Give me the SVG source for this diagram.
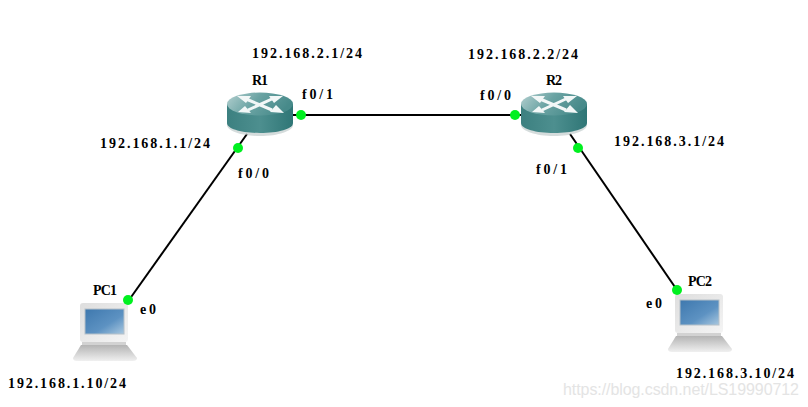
<svg xmlns="http://www.w3.org/2000/svg" width="808" height="407" viewBox="0 0 808 407">
<style>
.t{font-family:"Liberation Serif","DejaVu Serif",serif;font-weight:bold;font-size:14px;fill:#000}
.l{stroke:#000;stroke-width:2;fill:none}
.d{fill:#00f020}
.a{stroke:#f2f7f7;stroke-width:3;fill:none}
.h{fill:#f2f7f7}
</style>
<defs>
<linearGradient id="rt" x1="0" y1="0" x2="1" y2="0.3"><stop offset="0" stop-color="#b4d0d0"/><stop offset="0.5" stop-color="#6aa3a3"/><stop offset="1" stop-color="#478a8a"/></linearGradient>
<linearGradient id="rb" x1="0" y1="0" x2="1" y2="0"><stop offset="0" stop-color="#3c8080"/><stop offset="0.5" stop-color="#4d8f8f"/><stop offset="1" stop-color="#2f7676"/></linearGradient>
<linearGradient id="scr" x1="0" y1="0" x2="1" y2="1"><stop offset="0" stop-color="#3e78ae"/><stop offset="0.6" stop-color="#5d92c2"/><stop offset="1" stop-color="#a9c8e0"/></linearGradient>
<linearGradient id="mon" x1="0" y1="0" x2="1" y2="1"><stop offset="0" stop-color="#dedede"/><stop offset="1" stop-color="#f4f4f4"/></linearGradient>
<linearGradient id="bs" x1="0" y1="0" x2="0" y2="1"><stop offset="0" stop-color="#b4b4b4"/><stop offset="1" stop-color="#f0f0f0"/></linearGradient>
<g id="router">
<path d="M227 105V125C227 131 242 136 260 136S293 131 293 125V105Z" fill="#b9c4c4" opacity=".6"/>
<path d="M227 104V123C227 129 242 133 260 133S293 129 293 123V104Z" fill="url(#rb)"/>
<ellipse cx="260" cy="104" rx="33" ry="11.500" fill="url(#rt)"/>
<path class="a" d="M246 99L272 110M274 98L248 110"/>
<path class="h" d="M237 96L251 96L246 103ZM283 96L269 96L274 103ZM238 112L245 106L251 113ZM284 113L276 105L270 112Z"/>
</g>
<g id="pc">
<rect x="80" y="303" width="48" height="39" rx="3" fill="url(#mon)"/>
<rect x="82" y="342" width="44" height="4" fill="#d2d2d2"/>
<rect x="85" y="309" width="39" height="25" fill="url(#scr)" stroke="#b5c0c8"/>
<path d="M81 345H127L137 358Q137 361 133 361H77Q73 361 73 358Z" fill="url(#bs)"/>
</g>
</defs>
<g id="connectors">
<path class="l" d="M129 300L247 134"/>
<path class="l" d="M293 115H522"/>
<path class="l" d="M570 134L677 290"/>
</g>
<g id="R1"><use href="#router"/><text class="t" x="252" y="85" textLength="16">R1</text></g>
<g id="R2"><use href="#router" x="294"/><text class="t" x="546" y="85" textLength="16">R2</text></g>
<g id="PC1"><use href="#pc"/><text class="t" x="93" y="295" textLength="24">PC1</text></g>
<g id="PC2"><use href="#pc" x="595" y="-9"/><text class="t" x="688" y="286" textLength="24">PC2</text></g>
<g id="ports">
<circle class="d" cx="238" cy="148" r="5"/><circle class="d" cx="301" cy="115" r="5"/><circle class="d" cx="515" cy="115" r="5"/><circle class="d" cx="578" cy="148" r="5"/><circle class="d" cx="128" cy="300" r="5"/><circle class="d" cx="677" cy="290" r="5"/>
</g>
<g id="labels">
<text class="t" x="252" y="58" textLength="110">192.168.2.1/24</text>
<text class="t" x="468" y="59" textLength="110">192.168.2.2/24</text>
<text class="t" x="100" y="148" textLength="110">192.168.1.1/24</text>
<text class="t" x="614" y="146" textLength="110">192.168.3.1/24</text>
<text class="t" x="8" y="388" textLength="118">192.168.1.10/24</text>
<text class="t" x="676" y="378" textLength="118">192.168.3.10/24</text>
<text class="t" x="302" y="99" textLength="31">f0/1</text>
<text class="t" x="480" y="100" textLength="31">f0/0</text>
<text class="t" x="238" y="178" textLength="31">f0/0</text>
<text class="t" x="536" y="174" textLength="31">f0/1</text>
<text class="t" x="140" y="314" textLength="16">e0</text>
<text class="t" x="646" y="308" textLength="16">e0</text>
</g>
<text x="563" y="395" font-family="Liberation Sans,Arial,sans-serif" font-size="16" fill="#e4e4e4" textLength="236">https://blog.csdn.net/LS19990712</text>
</svg>
